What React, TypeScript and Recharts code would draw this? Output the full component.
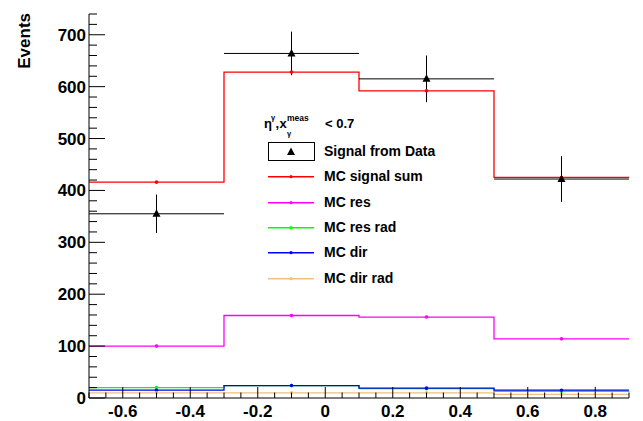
import React from "react";
import { ComposedChart, Line, Scatter, XAxis, YAxis, ErrorBar, Legend } from "recharts";

const binEdges = [-0.7, -0.3, 0.1, 0.5, 0.9];
const binCenters = [-0.5, -0.1, 0.3, 0.7];
const binHalfWidth = 0.2;

const dataValues = [355, 664, 615, 422];
const dataErrors = [37, 42, 45, 44];

const mcSignalSum = [416, 628, 592, 425];
const mcRes = [100, 159, 156, 114];
const mcResRad = [20, 24, 18, 13];
const mcDir = [15, 24, 19, 15];
const mcDirRad = [10, 10, 10, 7];

const xMajorTicks = [-0.6, -0.4, -0.2, 0, 0.2, 0.4, 0.6, 0.8];
const xTickLabels = ["-0.6", "-0.4", "-0.2", "0", "0.2", "0.4", "0.6", "0.8"];
const yMajorTicks = [0, 100, 200, 300, 400, 500, 600, 700];
const yTickLabels = ["0", "100", "200", "300", "400", "500", "600", "700"];

const X_DOMAIN: [number, number] = [-0.7, 0.9];
const Y_DOMAIN: [number, number] = [0, 740];

const xTicks = Array.from({ length: 33 }, (_, i) => Math.round((-0.7 + i * 0.05) * 100) / 100);
const yTicks = Array.from({ length: 38 }, (_, i) => i * 20);

const FONT = '"Liberation Sans", Arial, Helvetica, sans-serif';

const series = [
  { name: "MC signal sum", color: "#ff0000", values: mcSignalSum },
  { name: "MC res", color: "#ff00ff", values: mcRes },
  { name: "MC res rad", color: "#00ff00", values: mcResRad },
  { name: "MC dir", color: "#0000ff", values: mcDir },
  { name: "MC dir rad", color: "#f0c080", values: mcDirRad },
];

const toSteps = (values: number[]) => [
  ...values.map((y, i) => ({ x: binEdges[i], y })),
  { x: binEdges[values.length], y: values[values.length - 1] },
];
const toCenters = (values: number[]) => values.map((y, i) => ({ x: binCenters[i], y }));

const dataPoints = dataValues.map((y, i) => ({
  x: binCenters[i],
  y,
  ex: binHalfWidth,
  ey: dataErrors[i],
}));

const findLabel = (v: number, majors: number[], labels: string[]) => {
  const idx = majors.findIndex((m) => Math.abs(m - v) < 1e-6);
  return idx >= 0 ? labels[idx] : null;
};

function BottomTick({ x, y, payload }: any) {
  const label = findLabel(payload.value, xMajorTicks, xTickLabels);
  const len = label ? 11 : 5.5;
  return (
    <g>
      <line x1={x} x2={x} y1={y} y2={y - len} stroke="#000" />
      {label && (
        <text x={x} y={y + 18.5} textAnchor="middle" fontFamily={FONT} fontWeight="bold" fontSize={17} fill="#000">
          {label}
        </text>
      )}
    </g>
  );
}

function TopTick({ x, y, payload }: any) {
  const label = findLabel(payload.value, xMajorTicks, xTickLabels);
  const len = label ? 11 : 5.5;
  return <line x1={x} x2={x} y1={y} y2={y + len} stroke="#000" />;
}

function LeftTick({ x, y, payload }: any) {
  const label = findLabel(payload.value, yMajorTicks, yTickLabels);
  const len = label ? 16 : 8;
  return (
    <g>
      <line x1={x} x2={x + len} y1={y} y2={y} stroke="#000" />
      {label && (
        <text x={x - 3} y={y + 6} textAnchor="end" fontFamily={FONT} fontWeight="bold" fontSize={17} fill="#000">
          {label}
        </text>
      )}
    </g>
  );
}

function RightTick({ x, y, payload }: any) {
  const label = findLabel(payload.value, yMajorTicks, yTickLabels);
  const len = label ? 16 : 8;
  return <line x1={x} x2={x - len} y1={y} y2={y} stroke="#000" />;
}

function Triangle({ cx, cy }: any) {
  return <polygon points={`${cx},${cy - 4.5} ${cx + 4},${cy + 3} ${cx - 4},${cy + 3}`} fill="#000" />;
}

function CenterDot(color: string) {
  return ({ cx, cy }: any) => <circle cx={cx} cy={cy} r={1.8} fill={color} />;
}

function LegendBox() {
  const rowTop = 29;
  const rowH = 25.3;
  const textStyle: React.CSSProperties = {
    position: "absolute",
    left: 69,
    fontFamily: FONT,
    fontWeight: "bold",
    fontSize: 14,
    lineHeight: `${rowH}px`,
    whiteSpace: "nowrap",
    color: "#000",
  };
  return (
    <div style={{ position: "relative", width: 200, height: 180 }}>
      <svg width={120} height={29} style={{ position: "absolute", left: 0, top: 0 }}>
        <g fontFamily={FONT} fontWeight="bold" fill="#000">
          <text x={9} y={18} fontSize={13}>η</text>
          <text x={16} y={10} fontSize={7.5}>γ</text>
          <text x={20.5} y={18} fontSize={13}>,</text>
          <text x={24.5} y={18} fontSize={13}>x</text>
          <text x={32} y={11} fontSize={8.5}>meas</text>
          <text x={32} y={26} fontSize={7.5}>γ</text>
          <text x={70} y={18} fontSize={13}>{"< 0.7"}</text>
        </g>
      </svg>
      <div style={{ position: "absolute", left: 0, top: rowTop, width: 200, height: rowH }}>
        <svg width={60} height={rowH} style={{ position: "absolute", left: 0, top: 0 }}>
          <rect x={13.5} y={3.5} width={46} height={18} fill="none" stroke="#000" />
          <polygon points="36,8.5 40,16 32,16" fill="#000" />
        </svg>
        <span style={{ ...textStyle, top: 0 }}>Signal from Data</span>
      </div>
      {series.map((s, i) => (
        <div
          key={s.name}
          style={{ position: "absolute", left: 0, top: rowTop + rowH * (i + 1), width: 200, height: rowH }}
        >
          <svg width={60} height={rowH} style={{ position: "absolute", left: 0, top: 0 }}>
            <line x1={13} x2={59} y1={rowH / 2} y2={rowH / 2} stroke={s.color} strokeWidth={1.5} />
            <circle cx={36} cy={rowH / 2} r={1.6} fill={s.color} />
          </svg>
          <span style={{ ...textStyle, top: 0 }}>{s.name}</span>
        </div>
      ))}
    </div>
  );
}

export default function App() {
  return (
    <div style={{ position: "fixed", left: 0, top: 0, width: 643, height: 421, background: "#fff" }}>
      <ComposedChart width={643} height={421} margin={{ top: 14, right: 14, bottom: 0, left: 29 }}>
        <XAxis
          xAxisId="b"
          type="number"
          dataKey="x"
          domain={X_DOMAIN}
          allowDataOverflow
          ticks={xTicks}
          interval={0}
          tickSize={0}
          tickMargin={0}
          tickLine={false}
          axisLine={{ stroke: "#000" }}
          height={23}
          tick={(p: any) => <BottomTick {...p} />}
        />
        <XAxis
          xAxisId="t"
          orientation="top"
          type="number"
          dataKey="x"
          domain={X_DOMAIN}
          allowDataOverflow
          ticks={xTicks}
          interval={0}
          tickSize={0}
          tickMargin={0}
          tickLine={false}
          axisLine={{ stroke: "#000" }}
          height={0}
          tick={(p: any) => <TopTick {...p} />}
        />
        <YAxis
          yAxisId="l"
          type="number"
          domain={Y_DOMAIN}
          allowDataOverflow
          ticks={yTicks}
          interval={0}
          tickSize={0}
          tickMargin={0}
          tickLine={false}
          axisLine={{ stroke: "#000" }}
          width={60}
          tick={(p: any) => <LeftTick {...p} />}
          label={{
            content: ({ viewBox }: any) => (
              <text
                x={viewBox.x + 0.5}
                y={viewBox.y - 1}
                transform={`rotate(-90 ${viewBox.x + 0.5} ${viewBox.y - 1})`}
                textAnchor="end"
                fontFamily={FONT}
                fontWeight="bold"
                fontSize={17}
                fill="#000"
              >
                Events
              </text>
            ),
          }}
        />
        <YAxis
          yAxisId="r"
          orientation="right"
          type="number"
          domain={Y_DOMAIN}
          allowDataOverflow
          ticks={yTicks}
          interval={0}
          tickSize={0}
          tickMargin={0}
          tickLine={false}
          axisLine={{ stroke: "#000" }}
          width={0}
          tick={(p: any) => <RightTick {...p} />}
        />
        {series.map((s) => (
          <Line
            key={`line-${s.name}`}
            xAxisId="b"
            yAxisId="l"
            data={toSteps(s.values)}
            dataKey="y"
            type="stepAfter"
            stroke={s.color}
            strokeWidth={1.3}
            dot={false}
            activeDot={false}
            isAnimationActive={false}
          />
        ))}
        {series.map((s) => (
          <Scatter
            key={`pt-${s.name}`}
            xAxisId="b"
            yAxisId="l"
            data={toCenters(s.values)}
            dataKey="y"
            shape={CenterDot(s.color)}
            isAnimationActive={false}
          />
        ))}
        <Scatter
          name="Signal from Data"
          xAxisId="b"
          yAxisId="l"
          data={dataPoints}
          dataKey="y"
          shape={(p: any) => <Triangle {...p} />}
          isAnimationActive={false}
        >
          <ErrorBar dataKey="ex" direction="x" width={0} stroke="#000" strokeWidth={1} />
          <ErrorBar dataKey="ey" direction="y" width={0} stroke="#000" strokeWidth={1} />
        </Scatter>
        <Legend
          layout="vertical"
          align="center"
          verticalAlign="middle"
          wrapperStyle={{ position: "absolute", left: 255, top: 110, width: 200, height: 180 }}
          content={() => <LegendBox />}
        />
      </ComposedChart>
    </div>
  );
}
